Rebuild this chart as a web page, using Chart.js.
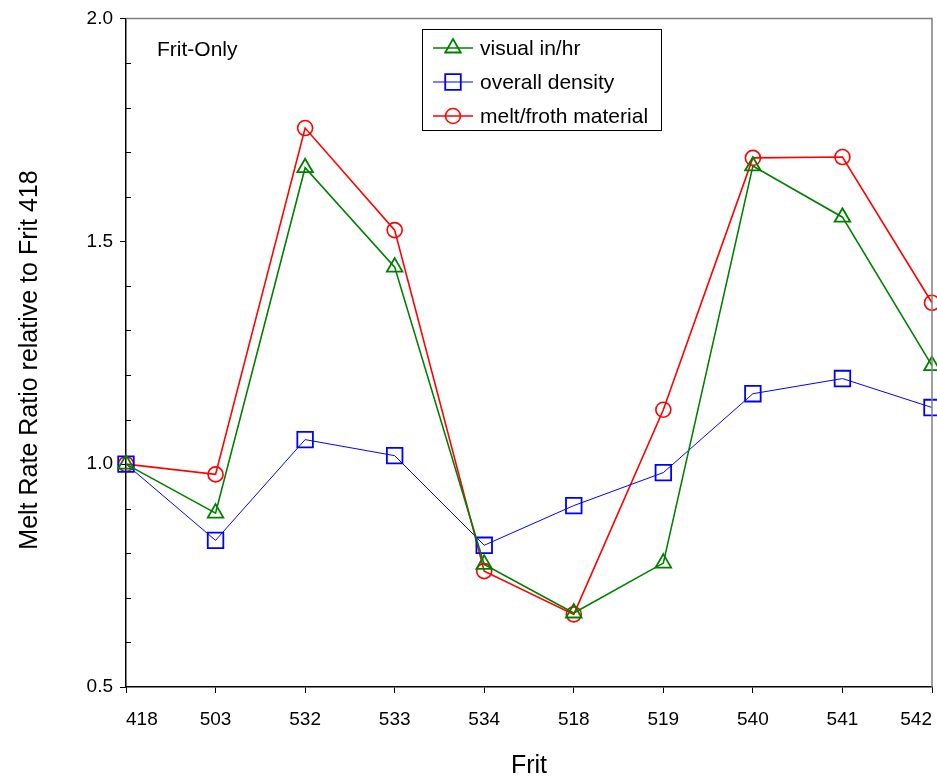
<!DOCTYPE html>
<html>
<head>
<meta charset="utf-8">
<script src="https://cdn.jsdelivr.net/npm/chart.js@4.4.1/dist/chart.umd.min.js"></script>
<style>
    html, body { margin: 0; padding: 0; background: #fff; }
    #wrap { width: 937px; height: 776px; }
</style>
</head>
<body>
<div id="wrap"><canvas id="meltChart" width="937" height="776"></canvas></div>
<script>
const frits = ['418', '503', '532', '533', '534', '518', '519', '540', '541', '542'];
const visualInHr = [1.0, 0.89, 1.665, 1.442, 0.775, 0.666, 0.778, 1.669, 1.554, 1.221];
const overallDensity = [1.0, 0.829, 1.055, 1.019, 0.818, 0.907, 0.981, 1.158, 1.192, 1.127];
const meltFroth = [1.0, 0.977, 1.754, 1.525, 0.760, 0.663, 1.122, 1.687, 1.689, 1.362];
const yTicks = [0.5, 1.0, 1.5, 2.0];

const FONT = '"Liberation Sans", Arial, sans-serif';

const seriesStyle = [
    { label: 'visual in/hr', data: visualInHr, color: '#008000', shape: 'triangle', r: 9, lw: 1.6, plw: 1.8 },
    { label: 'overall density', data: overallDensity, color: '#0000ff', shape: 'rect', r: 11, lw: 1, plw: 1.8 },
    { label: 'melt/froth material', data: meltFroth, color: '#ff0000', shape: 'circle', r: 7.5, lw: 1.6, plw: 1.6 }
];

// frame, minor ticks, legend box and annotations
const extras = {
    id: 'extras',
    afterDraw(chart) {
        const ctx = chart.ctx;
        const a = chart.chartArea;
        const ys = chart.scales.y;
        ctx.save();

        // gray top / right border
        ctx.strokeStyle = '#808080';
        ctx.lineWidth = 1.5;
        ctx.beginPath();
        ctx.moveTo(a.left, a.top);
        ctx.lineTo(a.right, a.top);
        ctx.lineTo(a.right, a.bottom);
        ctx.stroke();

        // minor ticks inside
        ctx.strokeStyle = '#000';
        ctx.lineWidth = 1;
        for (let i = 6; i < 20; i++) {
            if (i % 5 === 0) continue;
            const py = Math.round(ys.getPixelForValue(i / 10)) + 0.5;
            ctx.beginPath();
            ctx.moveTo(a.left, py);
            ctx.lineTo(a.left + 5, py);
            ctx.stroke();
        }

        // Frit-Only
        ctx.fillStyle = '#000';
        ctx.font = '21px ' + FONT;
        ctx.textBaseline = 'alphabetic';
        ctx.textAlign = 'left';
        ctx.fillText('Frit-Only', 157, 56);

        // legend
        ctx.strokeStyle = '#000';
        ctx.lineWidth = 1;
        ctx.strokeRect(422.5, 29.5, 239, 101);
        ctx.textBaseline = 'middle';
        seriesStyle.forEach((s, i) => {
            const cy = 48 + i * 34;
            ctx.strokeStyle = s.color;
            ctx.lineWidth = s.lw;
            ctx.beginPath();
            ctx.moveTo(433, cy);
            ctx.lineTo(473, cy);
            ctx.stroke();
            ctx.lineWidth = s.plw;
            ctx.fillStyle = 'rgba(0,0,0,0)';
            Chart.helpers.drawPoint(ctx, { pointStyle: s.shape, radius: s.r, borderWidth: s.plw }, 453, cy);
            ctx.fillStyle = '#000';
            ctx.fillText(s.label, 480, cy + 1);
        });

        // axis titles
        ctx.font = '25px ' + FONT;
        ctx.textAlign = 'center';
        ctx.textBaseline = 'alphabetic';
        ctx.fillText('Frit', 529, 773);
        ctx.translate(37, 360);
        ctx.rotate(-Math.PI / 2);
        ctx.fillText('Melt Rate Ratio relative to Frit 418', 0, 0);
        ctx.restore();
    }
};

new Chart(document.getElementById('meltChart'), {
    type: 'line',
    data: {
        labels: frits,
        datasets: seriesStyle.map(s => ({
            label: s.label,
            data: s.data,
            borderColor: s.color,
            borderWidth: s.lw,
            backgroundColor: 'rgba(0,0,0,0)',
            pointStyle: s.shape,
            pointRadius: s.r,
            pointBorderWidth: s.plw,
            pointBorderColor: s.color,
            pointBackgroundColor: 'rgba(0,0,0,0)',
            tension: 0,
            clip: false
        }))
    },
    options: {
        responsive: false,
        animation: false,
        events: [],
        layout: { autoPadding: false, padding: { top: 17, right: 5, left: 0, bottom: 0 } },
        plugins: {
            legend: { display: false },
            title: { display: false },
            tooltip: { enabled: false }
        },
        scales: {
            x: {
                offset: false,
                grid: { drawOnChartArea: false, drawTicks: true, tickLength: 6, color: '#000' },
                border: { color: '#000', width: 1.5 },
                ticks: { color: '#000', font: { family: FONT, size: 19 }, padding: 15, align: 'inner', maxRotation: 0, autoSkip: false },
                afterFit(scale) {
                    scale.height = 89;
                    scale.paddingLeft = 0;
                    scale.paddingRight = 0;
                }
            },
            y: {
                min: 0.5,
                max: 2.0,
                afterBuildTicks(scale) { scale.ticks = yTicks.map(v => ({ value: v })); },
                grid: { drawOnChartArea: false, drawTicks: true, tickLength: 6, color: '#000' },
                border: { color: '#000', width: 1.5 },
                ticks: {
                    color: '#000',
                    font: { family: FONT, size: 19 },
                    padding: 7,
                    callback: v => Number(v).toFixed(1)
                },
                afterFit(scale) { scale.width = 126; }
            }
        }
    },
    plugins: [extras]
});
</script>
</body>
</html>
